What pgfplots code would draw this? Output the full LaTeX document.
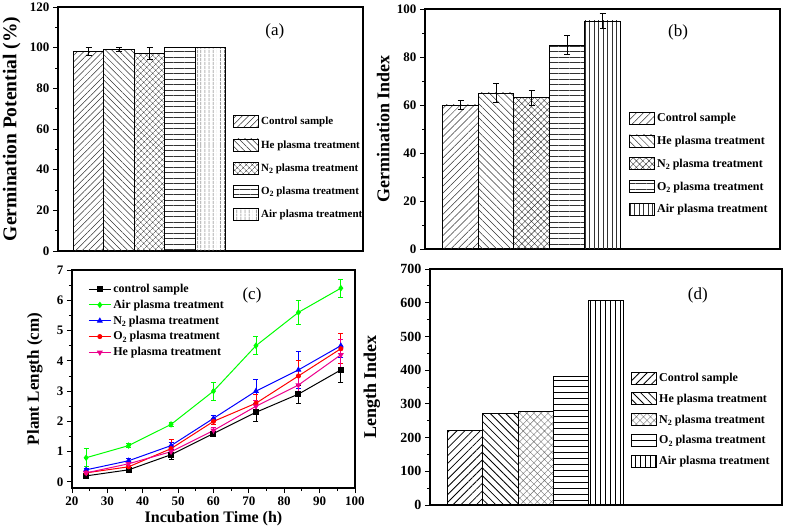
\documentclass[border=0pt]{standalone}
\usepackage{pgfplots}
\pgfplotsset{compat=1.18}
\usetikzlibrary{patterns.meta}
\usepackage{fontspec}
\setmainfont{Liberation Serif}

\newcommand{\sub}[1]{\raisebox{-2.5pt}{\fontsize{8}{8}\selectfont #1}}

\pgfplotsset{
  panel/.style={
    scale only axis,
    axis line style={line width=1.2pt},
    tick align=outside, tick pos=left,
    major tick length=5pt, minor tick length=3pt,
    every tick/.style={black, line width=0.9pt},
    /pgf/number format/assume math mode=true,
    tick label style={font=\bfseries\fontsize{13}{13}\selectfont},
    label style={font=\bfseries\fontsize{18}{18}\selectfont},
  },
  barpanel/.style={
    panel, xmin=0, xmax=10, ymin=0, xtick=\empty, minor y tick num=1,
    legend cell align=left,
    legend style={draw=none, fill=none, anchor=north west, inner sep=0pt,
      row sep=9pt, font=\bfseries\fontsize{12}{12}\selectfont},
  },
  mybar/.style={
    ybar, bar width=1, bar shift=0pt, draw=black, line width=0.8pt,
    pattern color=black!80,
    legend image code/.code={\draw[##1,/tikz/.cd] (0pt,-6pt) rectangle (25pt,6pt);},
  },
  witherr/.style={
    error bars/y dir=both, error bars/y explicit,
    error bars/error bar style={line width=0.8pt},
    error bars/error mark options={rotate=90, line width=0.8pt, mark size=#1},
  },
  witherr/.default=3pt,
}

\begin{document}
\begin{tikzpicture}[x=1pt,y=1pt]
\useasboundingbox (0,0) rectangle (787,530);

% (a) germination potential
\begin{axis}[barpanel, at={(58pt,279pt)}, anchor=south west,
    width=305pt, height=244pt, ymax=120, ytick={0,20,...,120},
    ylabel={Germination Potential (\%)},
    ylabel style={at={(axis description cs:-0.152,0.5)}, anchor=center, font=\bfseries\fontsize{19.5}{19.5}\selectfont},
    legend style={at={(axis description cs:0.574,0.557)}, row sep=10pt,
      font=\bfseries\fontsize{11}{11}\selectfont}]
\addplot[mybar, witherr, pattern={Lines[angle=45,distance=4.5pt,line width=0.5pt]}] coordinates {(1,98) +- (0,2)};
\addplot[mybar, witherr, pattern={Lines[angle=-45,distance=4.5pt,line width=0.5pt]}] coordinates {(2,99) +- (0,1)};
\addplot[mybar, witherr, pattern={Hatch[angle=45,distance=4pt,line width=0.4pt]}] coordinates {(3,97) +- (0,3)};
\addplot[mybar, pattern={Lines[angle=0,distance=5.5pt,line width=0.5pt]}] coordinates {(4,100)};
\addplot[mybar, pattern={Lines[angle=90,distance=4pt,line width=0.5pt]}] coordinates {(5,100)};
\legend{Control sample, He plasma treatment, N\sub{2} plasma treatment,
  O\sub{2} plasma treatment, Air plasma treatment}
\node[font=\fontsize{17}{17}\selectfont] at (rel axis cs:0.711,0.898) {(a)};
\end{axis}

% (b) germination index
\begin{axis}[barpanel, at={(425pt,281pt)}, anchor=south west,
    width=355pt, height=240pt, ymax=100, ytick={0,20,...,100},
    ylabel={Germination Index},
    ylabel style={at={(axis description cs:-0.118,0.5)}, anchor=center},
    legend style={at={(axis description cs:0.575,0.575)}}]
\addplot[mybar, witherr, pattern={Lines[angle=45,distance=5pt,line width=0.5pt]}] coordinates {(1,60) +- (0,2)};
\addplot[mybar, witherr, pattern={Lines[angle=-45,distance=5pt,line width=0.5pt]}] coordinates {(2,65) +- (0,4)};
\addplot[mybar, witherr, pattern={Hatch[angle=45,distance=4.5pt,line width=0.4pt]}] coordinates {(3,63) +- (0,3)};
\addplot[mybar, witherr, pattern={Lines[angle=0,distance=5.5pt,line width=0.5pt]}] coordinates {(4,85) +- (0,4)};
\addplot[mybar, witherr, pattern={Lines[angle=90,distance=4.5pt,line width=0.5pt]}] coordinates {(5,95) +- (0,3)};
\legend{Control sample, He plasma treatment, N\sub{2} plasma treatment,
  O\sub{2} plasma treatment, Air plasma treatment}
\node[font=\fontsize{17}{17}\selectfont] at (rel axis cs:0.713,0.904) {(b)};
\end{axis}

% (c) plant length
\begin{axis}[panel, at={(72pt,42pt)}, anchor=south west,
    width=283pt, height=218pt,
    xmin=20, xmax=100, ymin=-0.2, ymax=7,
    xtick={20,30,...,100}, ytick={0,1,...,7}, minor tick num=1,
    xlabel={Incubation Time (h)}, ylabel={Plant Length (cm)},
    ylabel style={at={(axis description cs:-0.131,0.5)}, anchor=center, font=\bfseries\fontsize{17}{17}\selectfont},
    xlabel style={at={(axis description cs:0.5,-0.142)}, anchor=center, font=\bfseries\fontsize{16}{16}\selectfont},
    legend cell align=left,
    legend image code/.code={\draw[mark repeat=2,mark phase=2,#1] plot coordinates {(0pt,0pt) (11pt,0pt) (22pt,0pt)};},
    legend style={draw=none, fill=none, anchor=north west, inner sep=0pt, row sep=2pt,
      at={(axis description cs:0.057,0.945)}, font=\bfseries\fontsize{12}{12}\selectfont},
    every axis plot/.append style={line width=1pt, mark size=2.5pt}]
\addplot[witherr=2.5pt, black, mark=square*] coordinates {
  (24,0.2) +- (0,0.05) (36,0.4) +- (0,0.05) (48,0.9) +- (0,0.15) (60,1.6) +- (0,0.07)
  (72,2.3) +- (0,0.3) (84,2.9) +- (0,0.3) (96,3.7) +- (0,0.4)};
\addplot[witherr=2.5pt, green, mark=diamond*] coordinates {
  (24,0.8) +- (0,0.3) (36,1.2) +- (0,0.07) (48,1.9) +- (0,0.08) (60,3.0) +- (0,0.3)
  (72,4.5) +- (0,0.3) (84,5.6) +- (0,0.4) (96,6.4) +- (0,0.3)};
\addplot[witherr=2.5pt, blue, mark=triangle*] coordinates {
  (24,0.4) +- (0,0.05) (36,0.7) +- (0,0.07) (48,1.2) +- (0,0.12) (60,2.1) +- (0,0.1)
  (72,3.0) +- (0,0.4) (84,3.7) +- (0,0.6) (96,4.5) +- (0,0.4)};
\addplot[witherr=2.5pt, red, mark=*, mark size=2pt] coordinates {
  (24,0.3) +- (0,0.05) (36,0.5) +- (0,0.05) (48,1.1) +- (0,0.3) (60,2.0) +- (0,0.1)
  (72,2.6) +- (0,0.3) (84,3.5) +- (0,0.5) (96,4.4) +- (0,0.5)};
\addplot[witherr=2.5pt, magenta, mark=triangle*, mark options={rotate=180}] coordinates {
  (24,0.3) +- (0,0.05) (36,0.6) +- (0,0.05) (48,1.0) +- (0,0.2) (60,1.7) +- (0,0.1)
  (72,2.5) +- (0,0.2) (84,3.2) +- (0,0.3) (96,4.2) +- (0,0.5)};
\legend{control sample, Air plasma treatment, N\sub{2} plasma treatment,
  O\sub{2} plasma treatment, He plasma treatment}
\node[font=\fontsize{17}{17}\selectfont] at (rel axis cs:0.636,0.885) {(c)};
\end{axis}

% (d) length index
\begin{axis}[barpanel, at={(430pt,25pt)}, anchor=south west,
    width=352pt, height=236pt, ymax=700, ytick={0,100,...,700},
    tick label style={font=\bfseries\fontsize{14}{14}\selectfont},
    ylabel={Length Index},
    ylabel style={at={(axis description cs:-0.165,0.5)}, anchor=center},
    legend style={at={(axis description cs:0.571,0.568)}, row sep=7pt}]
\addplot[mybar, line width=1pt, pattern color=black, pattern={Lines[angle=45,distance=5.5pt,line width=0.8pt]}] coordinates {(1,220)};
\addplot[mybar, line width=1pt, pattern color=black, pattern={Lines[angle=-45,distance=5.5pt,line width=0.8pt]}] coordinates {(2,272)};
\addplot[mybar, line width=1pt, pattern color=black!55, pattern={Hatch[angle=45,distance=5pt,line width=0.4pt]}] coordinates {(3,277)};
\addplot[mybar, line width=1pt, pattern color=black, pattern={Lines[angle=0,distance=6pt,line width=0.6pt]}] coordinates {(4,382)};
\addplot[mybar, line width=1pt, pattern color=black, pattern={Lines[angle=90,distance=5pt,line width=0.6pt]}] coordinates {(5,608)};
\legend{Control sample, He plasma treatment, N\sub{2} plasma treatment,
  O\sub{2} plasma treatment, Air plasma treatment}
\node[font=\fontsize{17}{17}\selectfont] at (rel axis cs:0.761,0.886) {(d)};
\end{axis}
\end{tikzpicture}
\end{document}
